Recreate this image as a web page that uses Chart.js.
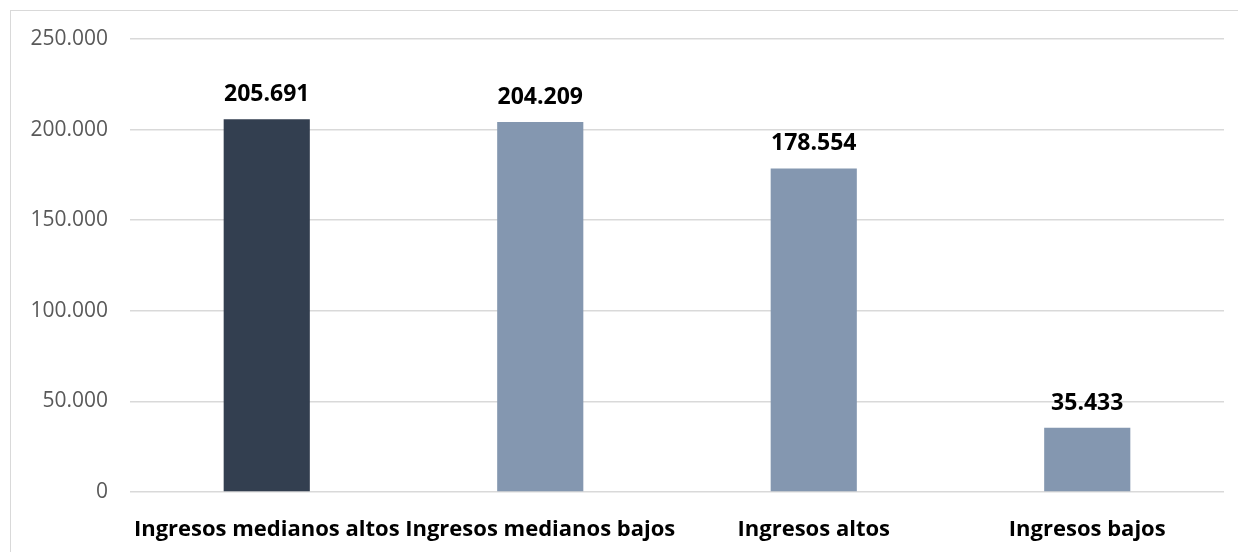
<!DOCTYPE html>
<html>
<head>
<meta charset="utf-8">
<script src="https://cdn.jsdelivr.net/npm/chart.js@4"></script>
<style>
    html, body { margin: 0; padding: 0; background: #ffffff; }
    #wrap { position: relative; width: 1238px; height: 552px; }
    #frame {
        position: absolute; left: 10px; top: 10px; right: -2px; bottom: -2px;
        border-left: 1px solid #d9d9d9; border-top: 1px solid #d9d9d9;
    }
    canvas { position: absolute; left: 0; top: 0; }
</style>
</head>
<body>
<div id="wrap">
    <div id="frame"></div>
    <canvas id="incomeChart" width="1238" height="552"></canvas>
</div>
<script>
const categories = ['Ingresos medianos altos', 'Ingresos medianos bajos', 'Ingresos altos', 'Ingresos bajos'];
const values = [205691, 204209, 178554, 35433];
const barColors = ['#333f50', '#8497b0', '#8497b0', '#8497b0'];
const yTicks = [0, 50000, 100000, 150000, 200000, 250000];

const fontFamily = '"Open Sans", "Noto Sans", sans-serif';

function formatEs(value) {
    return String(Math.round(value)).replace(/\B(?=(\d{3})+(?!\d))/g, '.');
}

const valueLabels = {
    id: 'valueLabels',
    afterDatasetsDraw(chart) {
        const ctx = chart.ctx;
        const meta = chart.getDatasetMeta(0);
        ctx.save();
        ctx.font = 'bold 23px ' + fontFamily;
        ctx.fillStyle = '#000000';
        ctx.textAlign = 'center';
        ctx.textBaseline = 'alphabetic';
        meta.data.forEach((bar, i) => {
            ctx.fillText(formatEs(values[i]), bar.x, bar.y - 18);
        });
        ctx.restore();
    },
};

new Chart(document.getElementById('incomeChart'), {
    type: 'bar',
    data: {
        labels: categories,
        datasets: [
            {
                data: values,
                backgroundColor: barColors,
                borderWidth: 0,
                categoryPercentage: 1,
                barPercentage: 0.315,
            },
        ],
    },
    options: {
        responsive: false,
        animation: false,
        layout: {
            padding: { top: 39, right: 14, left: 0, bottom: 0 },
        },
        plugins: {
            legend: { display: false },
            tooltip: { enabled: false },
        },
        scales: {
            x: {
                grid: { display: false },
                border: { display: false },
                ticks: {
                    color: '#000000',
                    padding: 17,
                    maxRotation: 0,
                    autoSkip: false,
                    font: { family: fontFamily, size: 22, weight: 'bold' },
                },
                afterFit(scale) {
                    scale.height = 60;
                },
            },
            y: {
                min: 0,
                max: 250000,
                afterBuildTicks(scale) {
                    scale.ticks = yTicks.map((v) => ({ value: v }));
                },
                grid: {
                    color: '#d9d9d9',
                    lineWidth: 1.5,
                    drawTicks: false,
                },
                border: { display: false },
                ticks: {
                    color: '#595959',
                    padding: 22,
                    font: { family: fontFamily, size: 21 },
                    callback: (value) => formatEs(value),
                },
                afterFit(scale) {
                    scale.width = 130;
                },
            },
        },
    },
    plugins: [valueLabels],
});
</script>
</body>
</html>
